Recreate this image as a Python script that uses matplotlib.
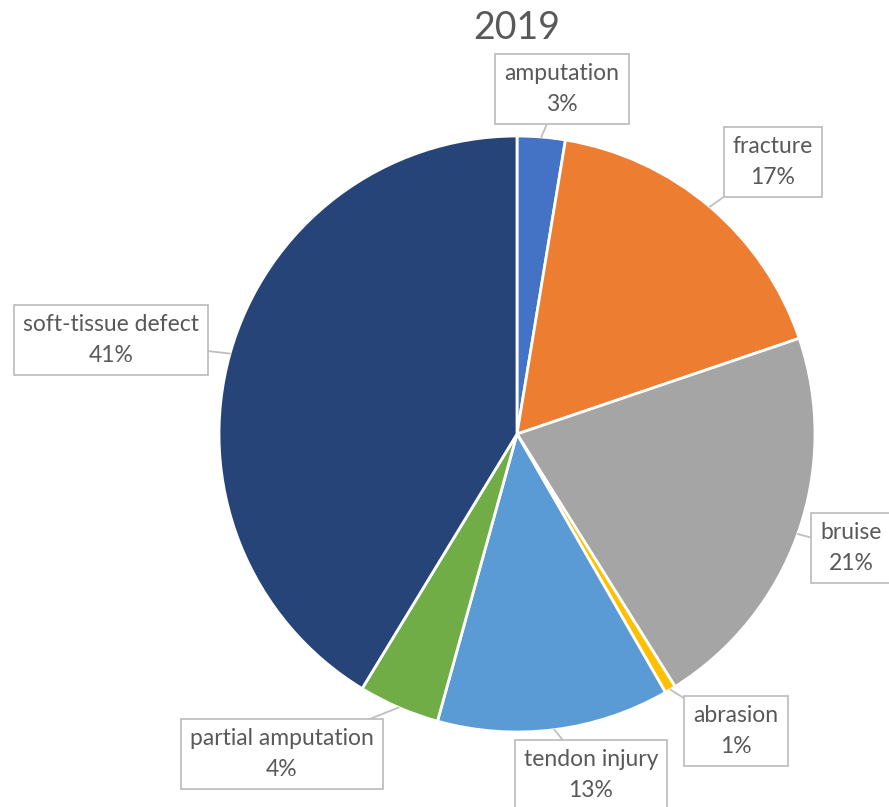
import numpy as np
import matplotlib
matplotlib.use('Agg')
from matplotlib import pyplot as plt

# 2019 injury types (share of cases, %)
injuries = ['amputation', 'fracture', 'bruise', 'abrasion',
            'tendon injury', 'partial amputation', 'soft-tissue defect']
shares = [2.6, 17.2, 21.3, 0.6, 12.6, 4.4, 41.3]
colors = ['#4472C4', '#ED7D31', '#A5A5A5', '#FFC000',
          '#5B9BD5', '#70AD47', '#264478']

# label box centres in pixels (x, y from top)
label_pos = [(562, 89), (773, 162), (851, 548), (736, 731),
             (591, 775), (282, 754), (111, 340)]

W, H = 889, 807
cx, cy, R = 517, 434, 298

plt.rcParams['font.family'] = ['Lato', 'DejaVu Sans']

fig = plt.figure(figsize=(W / 100, H / 100), dpi=100)
ax = fig.add_axes([0, 0, 1, 1])

wedges, _ = ax.pie(shares, colors=colors, startangle=90, counterclock=False,
                   radius=R, center=(cx, H - cy),
                   wedgeprops=dict(edgecolor='white', linewidth=2))
ax.set_xlim(0, W)
ax.set_ylim(0, H)
ax.set_aspect('equal')
ax.axis('off')

total = sum(shares)
for w, name, val, (lx, ly) in zip(wedges, injuries, shares, label_pos):
    mid = np.deg2rad((w.theta1 + w.theta2) / 2)
    tip = (cx + R * np.cos(mid), H - cy + R * np.sin(mid))
    txt = f'{name}\n{round(val / total * 100):.0f}%'
    ax.annotate(txt, xy=tip, xytext=(lx, H - ly), ha='center', va='center',
                fontsize=16.5, color='#595959', linespacing=1.55,
                bbox=dict(boxstyle='square,pad=0.4', fc='white', ec='#BFBFBF', lw=1.3),
                arrowprops=dict(arrowstyle='-', color='#BFBFBF', lw=1.3,
                                shrinkA=0, shrinkB=0))

ax.text(cx, H - 28, '2019', ha='center', va='center', fontsize=27, color='#595959')

fig.savefig('out.png', dpi=100)
